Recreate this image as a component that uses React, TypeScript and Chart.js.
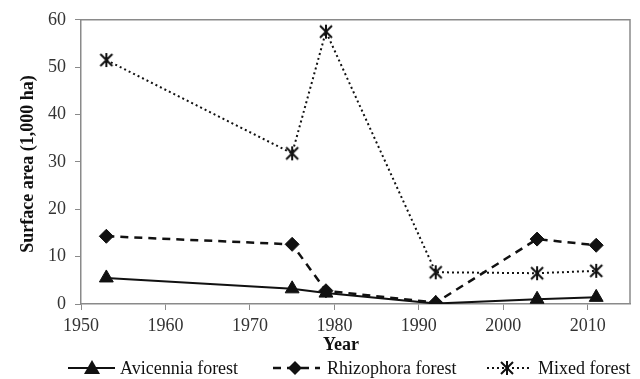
import React, { useEffect, useRef } from "react";
import { Chart, registerables } from "chart.js";

Chart.register(...registerables);

const years = [1953, 1975, 1979, 1992, 2004, 2011];
const avicennia = [5.5, 3.2, 2.3, 0.1, 1.0, 1.4];
const rhizophora = [14.3, 12.6, 2.8, 0.3, 13.7, 12.4];
const mixed = [51.5, 31.8, 57.5, 6.7, 6.5, 7.0];
const xTicks = [1950, 1960, 1970, 1980, 1990, 2000, 2010];
const seriesNames = ["Avicennia forest", "Rhizophora forest", "Mixed forest"];

const INK = "#111";
const AXIS = "#8a8a8a";
const FONT = "'Liberation Serif', 'Times New Roman', serif";

function makeStar(size: number): HTMLCanvasElement {
  const c = document.createElement("canvas");
  c.width = size;
  c.height = size;
  const g = c.getContext("2d")!;
  g.strokeStyle = INK;
  g.lineWidth = 2;
  const m = 2;
  g.beginPath();
  g.moveTo(m, m);
  g.lineTo(size - m, size - m);
  g.moveTo(size - m, m);
  g.lineTo(m, size - m);
  g.moveTo(size / 2, m - 1);
  g.lineTo(size / 2, size - m + 1);
  g.stroke();
  return c;
}

export default function App() {
  const ref = useRef<HTMLCanvasElement | null>(null);

  useEffect(() => {
    document.body.style.margin = "0";
    const star = makeStar(16);

    const decor = {
      id: "decor",
      afterDraw(chart: any) {
        const ctx = chart.ctx;
        const a = chart.chartArea;
        ctx.save();
        // box top/right
        ctx.strokeStyle = AXIS;
        ctx.lineWidth = 1.5;
        ctx.beginPath();
        ctx.moveTo(a.left, a.top);
        ctx.lineTo(a.right, a.top);
        ctx.lineTo(a.right, a.bottom);
        ctx.stroke();
        // y title
        ctx.fillStyle = INK;
        ctx.font = `bold 18px ${FONT}`;
        ctx.textAlign = "center";
        ctx.textBaseline = "middle";
        ctx.save();
        ctx.translate(28, 164);
        ctx.rotate(-Math.PI / 2);
        ctx.fillText("Surface area (1,000 ha)", 0, 0);
        ctx.restore();
        // x title
        ctx.font = `bold 18px ${FONT}`;
        ctx.fillText("Year", 341, 345);
        // legend
        const ly = 368;
        ctx.font = `18px ${FONT}`;
        ctx.textAlign = "left";
        ctx.strokeStyle = INK;
        // Avicennia
        ctx.lineWidth = 2;
        ctx.setLineDash([]);
        ctx.beginPath();
        ctx.moveTo(68, ly);
        ctx.lineTo(115, ly);
        ctx.stroke();
        ctx.fillStyle = INK;
        ctx.beginPath();
        ctx.moveTo(92, ly - 8);
        ctx.lineTo(100, ly + 6);
        ctx.lineTo(84, ly + 6);
        ctx.closePath();
        ctx.fill();
        ctx.fillText(seriesNames[0], 120, ly + 1);
        // Rhizophora
        ctx.lineWidth = 2.5;
        ctx.setLineDash([8, 6]);
        ctx.beginPath();
        ctx.moveTo(273, ly);
        ctx.lineTo(320, ly);
        ctx.stroke();
        ctx.setLineDash([]);
        ctx.beginPath();
        ctx.moveTo(295, ly - 7);
        ctx.lineTo(302, ly);
        ctx.lineTo(295, ly + 7);
        ctx.lineTo(288, ly);
        ctx.closePath();
        ctx.fill();
        ctx.fillText(seriesNames[1], 327, ly + 1);
        // Mixed
        ctx.lineWidth = 2;
        ctx.setLineDash([2, 3]);
        ctx.beginPath();
        ctx.moveTo(487, ly);
        ctx.lineTo(532, ly);
        ctx.stroke();
        ctx.setLineDash([]);
        ctx.drawImage(star, 507 - 8, ly - 8);
        ctx.fillText(seriesNames[2], 538, ly + 1);
        ctx.restore();
      },
    };

    const chart = new Chart(ref.current!, {
      type: "line",
      data: {
        datasets: [
          {
            label: seriesNames[0],
            data: years.map((y, i) => ({ x: y, y: avicennia[i] })),
            borderColor: INK,
            backgroundColor: INK,
            borderWidth: 2,
            pointStyle: "triangle",
            pointRadius: 8,
            pointBorderWidth: 1,
            tension: 0,
          },
          {
            label: seriesNames[1],
            data: years.map((y, i) => ({ x: y, y: rhizophora[i] })),
            borderColor: INK,
            backgroundColor: INK,
            borderWidth: 2.5,
            borderDash: [8, 6],
            pointStyle: "rectRot",
            pointRadius: 7,
            pointBorderWidth: 1,
            tension: 0,
          },
          {
            label: seriesNames[2],
            data: years.map((y, i) => ({ x: y, y: mixed[i] })),
            borderColor: INK,
            backgroundColor: INK,
            borderWidth: 2,
            borderDash: [2, 3],
            pointStyle: star as any,
            pointRadius: 8,
            tension: 0,
          },
        ],
      },
      options: {
        animation: false,
        responsive: false,
        layout: { padding: { top: 19, right: 8, left: 0, bottom: 0 } },
        plugins: { legend: { display: false }, tooltip: { enabled: false } },
        scales: {
          x: {
            type: "linear",
            min: 1950,
            max: 2015,
            afterBuildTicks: (axis: any) => {
              axis.ticks = xTicks.map((v) => ({ value: v }));
            },
            afterFit: (scale: any) => {
              scale.height = 75;
            },
            grid: { drawOnChartArea: false, drawTicks: true, tickLength: 6, color: AXIS },
            border: { color: AXIS, width: 1.5 },
            ticks: {
              color: "#333",
              font: { family: FONT, size: 18 },
              padding: 5,
              maxRotation: 0,
              callback: (v: any) => String(v),
            },
          },
          y: {
            min: 0,
            max: 60,
            ticks: { stepSize: 10, color: "#333", font: { family: FONT, size: 18 }, padding: 9 },
            afterFit: (scale: any) => {
              scale.width = 81;
            },
            grid: { drawOnChartArea: false, drawTicks: true, tickLength: 6, color: AXIS },
            border: { color: AXIS, width: 1.5 },
          },
        },
      },
      plugins: [decor],
    });
    return () => chart.destroy();
  }, []);

  return (
    <div style={{ width: 640, height: 379, background: "#fff" }}>
      <canvas ref={ref} width={640} height={379} />
    </div>
  );
}
